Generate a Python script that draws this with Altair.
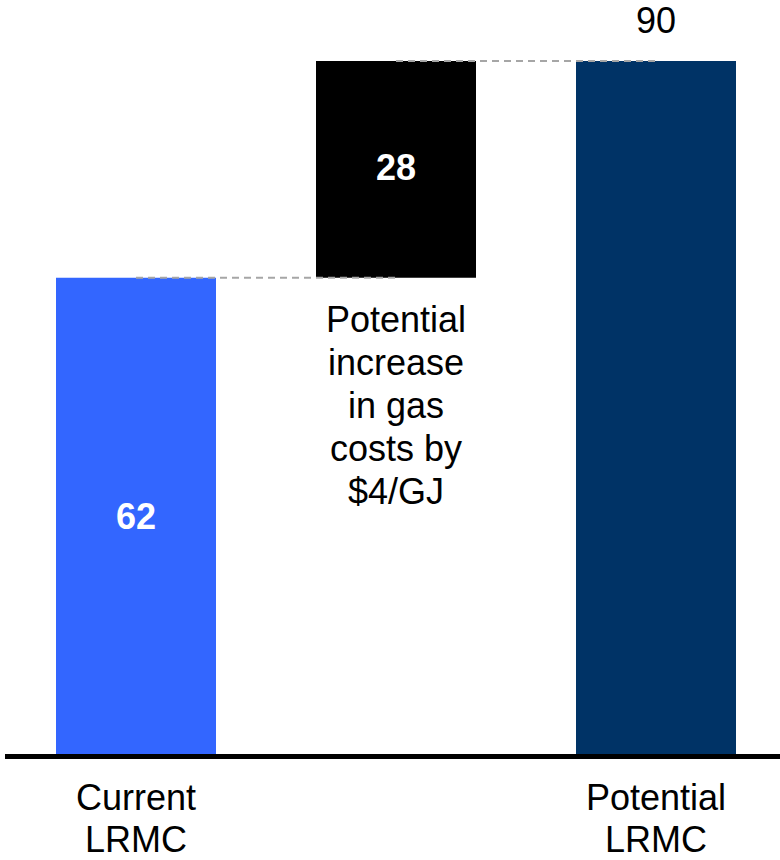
import altair as alt
import pandas as pd

# Waterfall: current cost, the gas-driven increase, and the resulting potential cost
categories = ["Current LRMC", "Gas cost increase", "Potential LRMC"]
tick_labels = ["Current\nLRMC", "", "Potential\nLRMC"]
values = [62, 28, 90]
starts = [0, 62, 0]
ends = [62, 90, 90]
colors = ["#3366FF", "#000000", "#003366"]
note_text = "Potential\nincrease\nin gas\ncosts by\n$4/GJ"

FONT = "Liberation Sans, Arial, Helvetica, sans-serif"

df = pd.DataFrame({
    "pos": list(range(len(categories))),
    "cat": categories,
    "tick": tick_labels,
    "start": starts,
    "end": ends,
    "value": values,
    "color": colors,
})

x_scale = alt.Scale(domain=[-136 / 260, 644 / 260], zero=False, nice=False, padding=0)
y_scale = alt.Scale(domain=[0, 90], zero=True, nice=False)

base = alt.Chart(df)

bars = base.mark_bar(width=160).encode(
    x=alt.X("pos:Q", scale=x_scale, axis=None),
    y=alt.Y("start:Q", scale=y_scale, axis=None),
    y2="end:Q",
    color=alt.Color("color:N", scale=None, legend=None),
)

# Dashed connectors from each bar's top to the next bar
connectors = base.transform_filter("datum.pos < 2").transform_calculate(
    nxt="datum.pos + 1"
).mark_rule(color="#A6A6A6", strokeWidth=2, strokeDash=[7, 5]).encode(
    x=alt.X("pos:Q", scale=x_scale),
    x2="nxt:Q",
    y=alt.Y("end:Q", scale=y_scale),
)

baseline = alt.Chart(df).mark_rule(color="#000000", strokeWidth=5, yOffset=-1.5).encode(
    x=alt.value(5),
    x2=alt.value(780),
    y=alt.datum(0, scale=y_scale),
)

# Bold white values inside the first two bars
inner_labels = base.transform_filter("datum.pos < 2").transform_calculate(
    mid="(datum.start + datum.end) / 2"
).mark_text(
    font=FONT, fontSize=36, fontWeight="bold", color="white", baseline="middle"
).encode(
    x=alt.X("pos:Q", scale=x_scale),
    y=alt.Y("mid:Q", scale=y_scale),
    text="value:Q",
)

# Total above the last bar
top_label = base.transform_filter("datum.pos == 2").mark_text(
    font=FONT, fontSize=36, color="black", baseline="alphabetic", dy=-28
).encode(
    x=alt.X("pos:Q", scale=x_scale),
    y=alt.Y("end:Q", scale=y_scale),
    text="value:Q",
)

# Explanatory note beneath the increase bar
note = base.transform_filter("datum.pos == 1").transform_calculate(
    note=f"'{note_text.replace(chr(10), '|')}'"
).mark_text(
    font=FONT, fontSize=36, color="black", baseline="alphabetic",
    lineBreak="|", lineHeight=43, dy=54
).encode(
    x=alt.X("pos:Q", scale=x_scale),
    y=alt.Y("start:Q", scale=y_scale),
    text="note:N",
)

# Category labels under the baseline
cat_labels = base.transform_filter("datum.tick != ''").mark_text(
    font=FONT, fontSize=36, color="black", baseline="alphabetic",
    lineBreak="\n", lineHeight=42, dy=52
).encode(
    x=alt.X("pos:Q", scale=x_scale),
    y=alt.datum(0, scale=y_scale),
    text="tick:N",
)

chart = alt.layer(
    bars, connectors, baseline, inner_labels, top_label, note, cat_labels
).properties(
    width=780,
    height=697,
    autosize=alt.AutoSizeParams(type="none"),
    padding={"left": 0, "top": 61, "right": 0, "bottom": 102},
    background="white",
).configure_view(stroke=None)

chart.save("out.html", embed_options={"renderer": "svg", "actions": False})
